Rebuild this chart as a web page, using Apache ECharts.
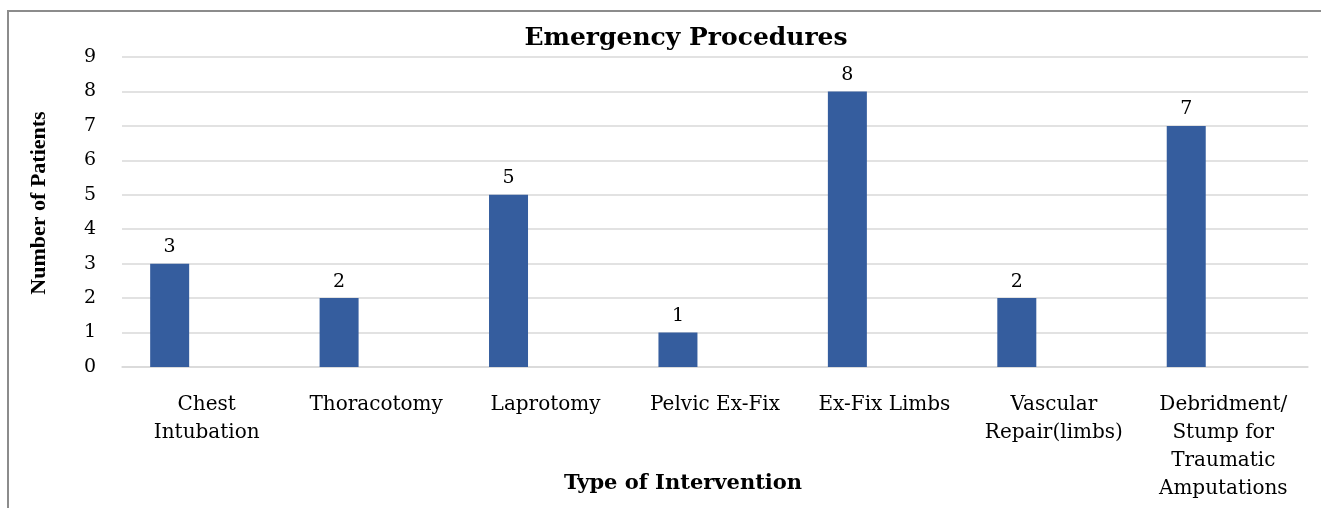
<!DOCTYPE html>
<html>
<head>
<meta charset="utf-8">
<title>Emergency Procedures</title>
<script src="https://cdn.jsdelivr.net/npm/echarts@6/dist/echarts.min.js"></script>
<style>
  html, body { margin: 0; padding: 0; background: #fff; overflow: hidden; }
  #frame { position: absolute; left: 7px; top: 10px; width: 1400px; height: 600px; border: 2px solid #8c8c8c; }
  #main { position: absolute; left: 0; top: 0; width: 1321px; height: 508px; }
</style>
</head>
<body>
<div id="frame"></div>
<div id="main"></div>
<script>
// chart data
var categories = [
    'Chest\nIntubation',
    'Thoracotomy',
    'Laprotomy',
    'Pelvic Ex-Fix',
    'Ex-Fix Limbs',
    'Vascular\nRepair(limbs)',
    'Debridment/\nStump for\nTraumatic\nAmputations'
];
var patients = [3, 2, 5, 1, 8, 2, 7];
var yTicks = [0, 1, 2, 3, 4, 5, 6, 7, 8, 9];

var serif = '"DejaVu Serif", "Liberation Serif", serif';

var myChart = echarts.init(document.getElementById('main'));

var option = {
    animation: false,
    title: {
        text: 'Emergency Procedures',
        left: 681,
        top: 21,
        textAlign: 'center',
        textStyle: { fontFamily: serif, fontWeight: 'bold', fontSize: 25, color: '#000' }
    },
    grid: { left: 122, right: 13, top: 57, bottom: 141, containLabel: false, outerBoundsMode: 'none' },
    xAxis: {
        type: 'category',
        data: categories,
        axisLine: { lineStyle: { color: '#d9d9d9', width: 1.5 } },
        axisTick: { show: false },
        axisLabel: {
            interval: 0, margin: 24, lineHeight: 28,
            fontFamily: serif, fontSize: 20, color: '#000'
        },
        name: 'Type of Intervention',
        nameLocation: 'middle',
        nameGap: 106,
        nameMoveOverlap: false,
        nameTextStyle: {
            fontFamily: serif, fontWeight: 'bold', fontSize: 21, color: '#000',
            padding: [0, 64, 0, 0]
        }
    },
    yAxis: {
        type: 'value',
        min: yTicks[0],
        max: yTicks[yTicks.length - 1],
        interval: 1,
        axisLine: { show: false },
        axisTick: { show: false },
        splitLine: { lineStyle: { color: '#d9d9d9', width: 1.5 } },
        axisLabel: { margin: 26, fontFamily: serif, fontSize: 19, color: '#000' },
        name: 'Number of Patients',
        nameLocation: 'middle',
        nameGap: 72,
        nameMoveOverlap: false,
        nameTextStyle: {
            fontFamily: '"Liberation Serif", serif', fontWeight: 'bold', fontSize: 22, color: '#000',
            padding: [0, 0, 0, 18]
        }
    },
    series: [{
        type: 'bar',
        data: patients,
        barWidth: 39,
        barGap: '90%',
        itemStyle: { color: '#355d9e' },
        label: {
            show: true, position: 'top', distance: 7,
            fontFamily: serif, fontSize: 19, color: '#000'
        }
    }, {
        // empty second slot of the cluster, keeps bars left of centre like the original
        type: 'bar',
        data: [],
        barWidth: 39
    }]
};

myChart.setOption(option);
</script>
</body>
</html>
